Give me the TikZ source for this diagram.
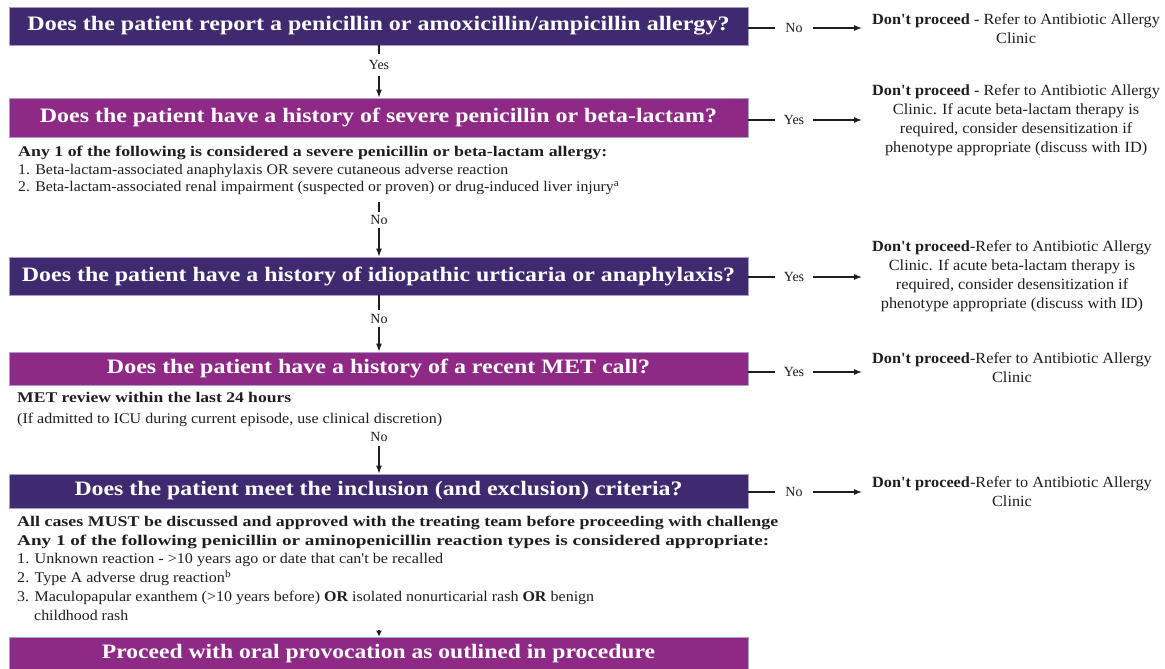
\documentclass[tikz,border=0pt]{standalone}
\usepackage{fontspec}
\setmainfont{Liberation Serif}
\usetikzlibrary{arrows.meta}
\definecolor{darkp}{HTML}{3F2A6F}
\definecolor{magp}{HTML}{8E2A86}
\definecolor{rim}{HTML}{A89DCC}
\definecolor{ink}{HTML}{1E1E1E}
\newcommand\fitw[2]{\resizebox{#1pt}{\height}{#2}}
\newcommand\outc[1]{\scalebox{1.05}[1]{\begin{tabular}{@{}c@{}}#1\end{tabular}}}
\begin{document}
\begin{tikzpicture}[x=1pt,y=-1pt,
  qbox/.style={draw=rim, line width=0.8pt, minimum width=739pt, inner sep=0pt,
    text=white, font=\fontsize{20.5}{24}\selectfont\bfseries},
  dk/.style={qbox, fill=darkp},
  mg/.style={qbox, fill=magp},
  lab/.style={font=\fontsize{14}{16}\selectfont, text=ink, inner sep=0pt},
  vlab/.style={lab, minimum width=20pt},
  hlab/.style={lab, minimum width=38pt, minimum height=14pt},
  bl/.style={anchor=west, inner sep=0pt, text=ink, font=\fontsize{14.8}{17}\selectfont,
    text height=10pt, text depth=3pt},
  tgt/.style={anchor=west, inner xsep=10pt, inner ysep=0pt, text=ink,
    font=\fontsize{15.5}{19}\selectfont},
  con/.style={draw=ink, line width=1.1pt},
  arr/.style={con, -{Latex[length=8pt,width=6pt]}}]
\useasboundingbox (0,0) rectangle (1165,669);

% question boxes
\node[dk, minimum height=38pt] (b1) at (378.5,26)
  {\fitw{702}{Does the patient report a penicillin or amoxicillin/ampicillin allergy?}};
\node[mg, minimum height=39pt] (b2) at (378.5,117.5)
  {\fitw{677}{Does the patient have a history of severe penicillin or beta-lactam?}};
\node[dk, minimum height=38pt] (b3) at (378.5,276)
  {\fitw{713}{Does the patient have a history of idiopathic urticaria or anaphylaxis?}};
\node[mg, minimum height=33pt] (b4) at (378.5,368.5)
  {\fitw{543}{Does the patient have a history of a recent MET call?}};
\node[dk, minimum height=34pt] (b5) at (378.5,491)
  {\fitw{608}{Does the patient meet the inclusion (and exclusion) criteria?}};
\node[mg, minimum height=33pt] (b6) at (378.5,653.5)
  {\fitw{553}{Proceed with oral provocation as outlined in procedure}};

% notes under boxes
\node[bl] (a1) at (18,153) {\fitw{589}{\bfseries Any 1 of the following is considered a severe penicillin or beta-lactam allergy:}};
\node[bl] (a2) at (18,170.5) {\fitw{490}{1. Beta-lactam-associated anaphylaxis OR severe cutaneous adverse reaction}};
\node[bl] (a3) at (18,188) {\fitw{601}{2. Beta-lactam-associated renal impairment (suspected or proven) or drug-induced liver injury\textsuperscript{a}}};

\node[bl] (m1) at (17,399) {\fitw{274}{\bfseries MET review within the last 24 hours}};
\node[bl] (m2) at (17,420) {\fitw{425}{(If admitted to ICU during current episode, use clinical discretion)}};

\node[bl] (c1) at (17,523) {\fitw{761}{\bfseries All cases MUST be discussed and approved with the treating team before proceeding with challenge}};
\node[bl] (c2) at (17,541.5) {\fitw{752}{\bfseries Any 1 of the following penicillin or aminopenicillin reaction types is considered appropriate:}};
\node[bl] (c3) at (17,560) {\fitw{426}{1. Unknown reaction - >10 years ago or date that can\textquotesingle t be recalled}};
\node[bl] (c4) at (17,579) {\fitw{214}{2. Type A adverse drug reaction\textsuperscript{b}}};
\node[bl] (c5) at (17,598) {\fitw{577}{3. Maculopapular exanthem (>10 years before) \textbf{OR} isolated nonurticarial rash \textbf{OR} benign}};
\node[bl] (c6) at (34,617) {\fitw{94}{childhood rash}};

% vertical connectors
\node[vlab, minimum height=22pt] (y12) at (379,65) {Yes};
\draw[con] (b1.south -| y12) -- (y12.north);
\draw[arr] (y12.south) -- (b2.north -| y12);

\coordinate (c23) at (379,202);
\node[vlab, minimum height=16pt] (n23) at (379,220) {No};
\draw[con] (c23) -- (n23.north);
\draw[arr] (n23.south) -- (b3.north -| n23);

\node[vlab, minimum height=17pt] (n34) at (379,318.5) {No};
\draw[con] (b3.south -| n34) -- (n34.north);
\draw[arr] (n34.south) -- (b4.north -| n34);

\node[vlab, minimum height=18pt] (n45) at (379,437) {No};
\draw[arr] (n45.south) -- (b5.north -| n45);

\coordinate (c56) at (379,630);
\draw[con, -{Latex[length=6pt,width=6pt]}] (c56) -- (b6.north -| c56);

% right-hand outcomes
\node[hlab] (r1) at (794,28) {No};
\node[tgt] (t1) at (862,30) {\outc{\textbf{Don\textquotesingle t proceed} - Refer to Antibiotic Allergy\\Clinic}};
\draw[con] (b1.east |- r1.west) -- (r1.west);
\draw[arr] (r1.east) -- (r1.east -| t1.west);

\node[hlab] (r2) at (794,120) {Yes};
\node[tgt] (t2) at (862,120.5) {\outc{\textbf{Don\textquotesingle t proceed} - Refer to Antibiotic Allergy\\Clinic. If acute beta-lactam therapy is\\required, consider desensitization if\\phenotype appropriate (discuss with ID)}};
\draw[con] (b2.east |- r2.west) -- (r2.west);
\draw[arr] (r2.east) -- (r2.east -| t2.west);

\node[hlab] (r3) at (794,277) {Yes};
\node[tgt] (t3) at (862,276) {\outc{\textbf{Don\textquotesingle t proceed}-Refer to Antibiotic Allergy\\Clinic. If acute beta-lactam therapy is\\required, consider desensitization if\\phenotype appropriate (discuss with ID)}};
\draw[con] (b3.east |- r3.west) -- (r3.west);
\draw[arr] (r3.east) -- (r3.east -| t3.west);

\node[hlab] (r4) at (794,372) {Yes};
\node[tgt] (t4) at (862,369.5) {\outc{\textbf{Don\textquotesingle t proceed}-Refer to Antibiotic Allergy\\Clinic}};
\draw[con] (b4.east |- r4.west) -- (r4.west);
\draw[arr] (r4.east) -- (r4.east -| t4.west);

\node[hlab] (r5) at (794,492) {No};
\node[tgt] (t5) at (862,493.5) {\outc{\textbf{Don\textquotesingle t proceed}-Refer to Antibiotic Allergy\\Clinic}};
\draw[con] (b5.east |- r5.west) -- (r5.west);
\draw[arr] (r5.east) -- (r5.east -| t5.west);
\end{tikzpicture}
\end{document}
